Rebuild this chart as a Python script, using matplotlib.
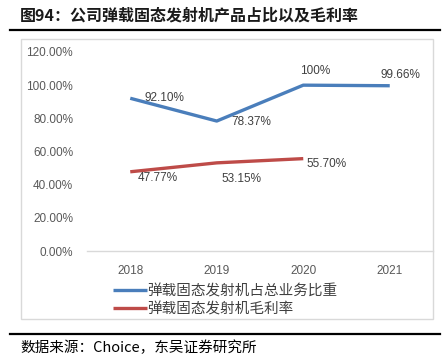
import matplotlib
matplotlib.use("Agg")
import matplotlib.pyplot as plt
from matplotlib.patches import Rectangle
from matplotlib.lines import Line2D

plt.rcParams['font.family'] = ['Noto Sans CJK SC', 'DejaVu Sans']

years = ['2018', '2019', '2020', '2021']
share = [92.10, 78.37, 100.0, 99.66]
margin = [47.77, 53.15, 55.70]
share_labels = ['92.10%', '78.37%', '100%', '99.66%']
margin_labels = ['47.77%', '53.15%', '55.70%']
yticks = [0, 20, 40, 60, 80, 100, 120]

blue = '#4A7EBB'
red = '#BE4B48'
W, H = 446, 364

fig = plt.figure(figsize=(W / 100, H / 100), dpi=100)

def fx(px):
    return px / W

def fy(py):
    return 1 - py / H

ax = fig.add_axes([fx(87), fy(251), fx(433) - fx(87), fy(52) - fy(251)])

x = list(range(len(years)))
l1, = ax.plot(x, share, color=blue, lw=2.4, solid_capstyle='butt',
              label='弹载固态发射机占总业务比重')
l2, = ax.plot(x[:len(margin)], margin, color=red, lw=2.4, solid_capstyle='butt',
              label='弹载固态发射机毛利率')

# label offsets in pixels (dx, dy)
share_off = [(34, 0), (35, -1), (12, 14), (11, 11)]
margin_off = [(28, -6), (25, -16), (23, -5)]
for i, (v, t) in enumerate(zip(share, share_labels)):
    ax.annotate(t, (x[i], v), xytext=share_off[i], textcoords='offset pixels',
                ha='center', va='center', fontsize=8.5, color='#404040',
                family='Liberation Sans')
for i, (v, t) in enumerate(zip(margin, margin_labels)):
    ax.annotate(t, (x[i], v), xytext=margin_off[i], textcoords='offset pixels',
                ha='center', va='center', fontsize=8.5, color='#404040',
                family='Liberation Sans')

ax.set_xlim(-0.5, 3.5)
ax.set_ylim(0, 120)
ax.set_xticks(x)
ax.set_xticklabels(years, family='Liberation Sans', fontsize=8.5, color='#595959')
ax.set_yticks(yticks)
ax.set_yticklabels(['%.2f%%' % v for v in yticks], family='Liberation Sans',
                   fontsize=8.5, color='#595959')
ax.tick_params(length=0)
ax.tick_params(axis='y', pad=10)
ax.tick_params(axis='x', pad=10)
for s in ['top', 'right', 'left']:
    ax.spines[s].set_visible(False)
ax.spines['bottom'].set_color('#D9D9D9')
ax.spines['bottom'].set_linewidth(1)
ax.patch.set_visible(False)

# legend
fig.legend(handles=[l1, l2], loc='upper left', bbox_to_anchor=(fx(113), fy(284)),
           frameon=False, fontsize=10.5, handlelength=2.3, handletextpad=0.05,
           labelspacing=0.3, borderpad=0, borderaxespad=0, labelcolor='#404040')

# outer chart frame
fig.patches.append(Rectangle((fx(21), fy(319)), fx(433) - fx(21), fy(39) - fy(319),
                             transform=fig.transFigure, fill=False,
                             edgecolor='#D9D9D9', lw=1))

# title and rules
fig.text(fx(20), fy(15), '图94：公司弹载固态发射机产品占比以及毛利率', fontsize=11.5,
         fontweight='bold', color='#1a1a1a', va='center', ha='left')
fig.add_artist(Line2D([fx(10), fx(440)], [fy(30), fy(30)], color='black', lw=1.6,
                      transform=fig.transFigure))
fig.add_artist(Line2D([fx(10), fx(440)], [fy(334), fy(334)], color='black', lw=1.6,
                      transform=fig.transFigure))
fig.text(fx(20), fy(348), '数据来源：Choice，东吴证券研究所', fontsize=10.5,
         color='black', va='center', ha='left')

fig.savefig('out.png', dpi=100)
